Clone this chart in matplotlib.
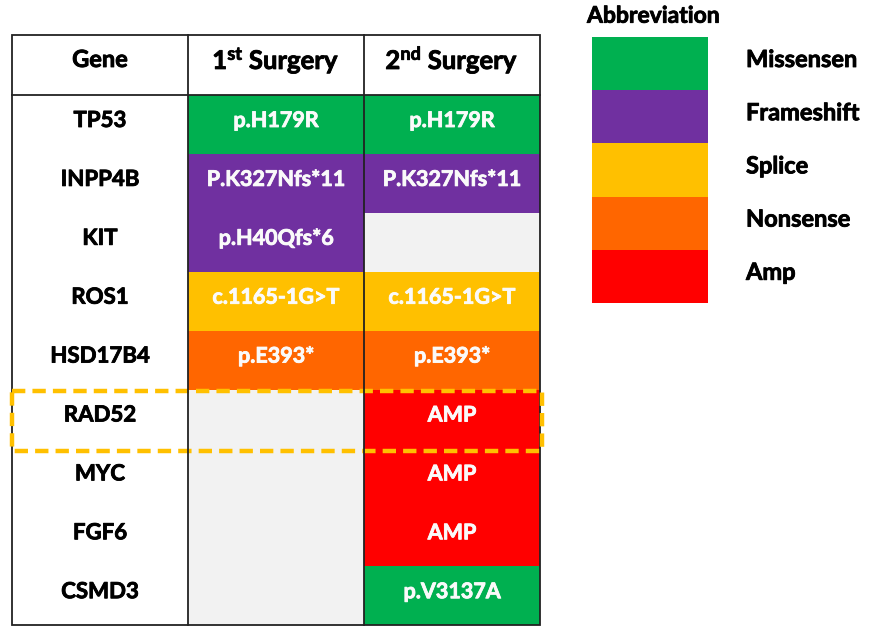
import matplotlib.pyplot as plt
import matplotlib.patheffects as pe
from matplotlib.patches import Rectangle

plt.rcParams['font.family'] = ['Lato', 'DejaVu Sans']
plt.rcParams['font.weight'] = 'bold'
plt.rcParams['mathtext.fontset'] = 'custom'
plt.rcParams['mathtext.bf'] = 'Lato:bold'
plt.rcParams['mathtext.rm'] = 'Lato:bold'

genes = ['TP53', 'INPP4B', 'KIT', 'ROS1', 'HSD17B4', 'RAD52', 'MYC', 'FGF6', 'CSMD3']
surgery1 = ['p.H179R', 'P.K327Nfs*11', 'p.H40Qfs*6', 'c.1165-1G>T', 'p.E393*', '', '', '', '']
surgery2 = ['p.H179R', 'P.K327Nfs*11', '', 'c.1165-1G>T', 'p.E393*', 'AMP', 'AMP', 'AMP', 'p.V3137A']
type1 = ['Missense', 'Frameshift', 'Frameshift', 'Splice', 'Nonsense', None, None, None, None]
type2 = ['Missense', 'Frameshift', None, 'Splice', 'Nonsense', 'Amp', 'Amp', 'Amp', 'Missense']
headers = ['Gene', r'$\mathbf{1^{st}}$ Surgery', r'$\mathbf{2^{nd}}$ Surgery']
legend_labels = ['Missensen', 'Frameshift', 'Splice', 'Nonsense', 'Amp']
legend_keys = ['Missense', 'Frameshift', 'Splice', 'Nonsense', 'Amp']
highlight_gene = 'RAD52'

colors = {'Missense': '#00B050', 'Frameshift': '#7030A0', 'Splice': '#FFC000',
          'Nonsense': '#FF6600', 'Amp': '#FF0000', None: '#F2F2F2'}

fig = plt.figure(figsize=(8.7, 6.34), dpi=100)
ax = fig.add_axes([0, 0, 1, 1])
ax.set_xlim(0, 870)
ax.set_ylim(634, 0)
ax.axis('off')

col_x = [12, 188, 364, 540]
top, head_h, row_h = 35, 60, 58.9

def row_top(i):
    return top + head_h + i * row_h

def heavy(color):
    # thicken Lato bold a little, closer to the original's heavy bold
    return [pe.withStroke(linewidth=0.6, foreground=color)]

# coloured cells
for c, (labels, types) in enumerate([(surgery1, type1), (surgery2, type2)]):
    x0, x1 = col_x[c + 1], col_x[c + 2]
    i = 0
    while i < len(genes):
        # merge consecutive empty cells
        j = i
        if types[i] is None:
            while j + 1 < len(genes) and types[j + 1] is None:
                j += 1
        ax.add_patch(Rectangle((x0, row_top(i)), x1 - x0, row_top(j + 1) - row_top(i),
                               facecolor=colors[types[i]], edgecolor='none'))
        i = j + 1
    for i, lab in enumerate(labels):
        if lab:
            ax.text((x0 + x1) / 2, row_top(i) + 32, lab, color='#FAFAFA',
                    ha='center', va='baseline', fontsize=15.5,
                    path_effects=heavy('#FAFAFA'))

# gene names
for i, g in enumerate(genes):
    ax.text((col_x[0] + col_x[1]) / 2, row_top(i) + 32, g,
            ha='center', va='baseline', fontsize=16, color='black',
            path_effects=heavy('black'))

# headers
for c, h in enumerate(headers):
    ax.text((col_x[c] + col_x[c + 1]) / 2, top + (32 if c == 0 else 34), h,
            ha='center', va='baseline', fontsize=17 if c == 0 else 18.5, color='black',
            path_effects=heavy('black'))

# grid lines
bottom = row_top(len(genes))
lc = '#222222'
ax.add_patch(Rectangle((col_x[0], top), col_x[3] - col_x[0], bottom - top,
                       facecolor='none', edgecolor=lc, lw=1.3))
for x in col_x[1:3]:
    ax.plot([x, x], [top, bottom], color=lc, lw=1.3)
ax.plot([col_x[0], col_x[3]], [top + head_h, top + head_h], color=lc, lw=1.3)

# highlight box
k = genes.index(highlight_gene)
ax.add_patch(Rectangle((col_x[0], row_top(k) + 1), col_x[3] - col_x[0] + 2, row_h + 2,
                       facecolor='none', edgecolor='#FFC000', lw=3.2,
                       linestyle=(0, (3, 1.6))))

# legend
lx, lw_, ly, lh = 592, 116, 37, 53.2
ax.text(587, 22.7, 'Abbreviation', ha='left', va='baseline', fontsize=16.5, color='black',
        path_effects=heavy('black'))
for i, (key, lab) in enumerate(zip(legend_keys, legend_labels)):
    ax.add_patch(Rectangle((lx, ly + i * lh), lw_, lh, facecolor=colors[key], edgecolor='none'))
    ax.text(746, ly + i * lh + 30, lab, ha='left', va='baseline', fontsize=17, color='black',
            path_effects=heavy('black'))

fig.savefig('out.png', dpi=100)
